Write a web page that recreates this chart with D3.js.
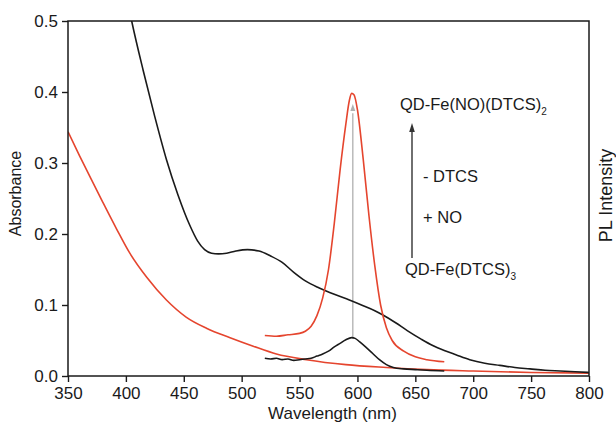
<!DOCTYPE html>
<html>
<head>
<meta charset="utf-8">
<script src="https://cdn.jsdelivr.net/npm/d3@7"></script>
<style>
  body { margin: 0; background: #fff; }
  text { font-family: "Liberation Sans", Arial, sans-serif; fill: #1a1a1a; }
</style>
</head>
<body>
<div id="chart"></div>
<script>
const width = 616,
  height = 424;
const margin = { top: 21, right: 27, bottom: 48, left: 68 };

// absorbance, black (QD-Fe(DTCS)3 sample)
const absBlackX = [400, 405, 415, 425, 435, 445, 455, 462, 468, 474, 480, 487, 495, 505, 515, 525, 535, 545, 555, 567, 580, 593, 605, 615, 622, 633, 643, 655, 665, 675, 685, 697, 710, 723, 736, 749, 762, 775, 788, 800];
const absBlackY = [0.54, 0.5, 0.43, 0.365, 0.305, 0.255, 0.213, 0.19, 0.178, 0.173, 0.172, 0.173, 0.176, 0.178, 0.176, 0.169, 0.16, 0.146, 0.134, 0.124, 0.115, 0.107, 0.099, 0.092, 0.086, 0.075, 0.064, 0.052, 0.043, 0.036, 0.03, 0.023, 0.018, 0.015, 0.012, 0.01, 0.008, 0.007, 0.006, 0.005];

// absorbance, red
const absRedX = [350, 360, 371, 380, 392, 403, 418, 435, 452, 470, 490, 510, 530, 556, 590, 625, 660, 700, 750, 800];
const absRedY = [0.344, 0.31, 0.274, 0.245, 0.207, 0.174, 0.139, 0.107, 0.083, 0.067, 0.054, 0.042, 0.031, 0.023, 0.016, 0.012, 0.009, 0.007, 0.005, 0.004];

// PL, red (after NO)
const plRedX = [520, 530, 540, 550, 555, 560, 565, 570, 575, 580, 585, 590, 593, 595, 597, 600, 605, 610, 615, 620, 625, 630, 640, 650, 660, 675];
const plRedY = [0.057, 0.056, 0.058, 0.06, 0.063, 0.07, 0.085, 0.11, 0.15, 0.215, 0.29, 0.355, 0.388, 0.398, 0.396, 0.375, 0.305, 0.225, 0.155, 0.1, 0.068, 0.05, 0.035, 0.027, 0.023, 0.02];

// PL, black (before NO)
const plBlackX = [520, 525, 530, 535, 540, 545, 550, 555, 560, 565, 570, 575, 580, 585, 590, 595, 598, 602, 607, 613, 619, 625, 631, 640, 650, 660, 675];
const plBlackY = [0.025, 0.024, 0.025, 0.023, 0.024, 0.022, 0.023, 0.024, 0.025, 0.028, 0.031, 0.035, 0.041, 0.046, 0.051, 0.054, 0.053, 0.048, 0.041, 0.032, 0.023, 0.016, 0.012, 0.01, 0.009, 0.008, 0.007];

const xTicks = [350, 400, 450, 500, 550, 600, 650, 700, 750, 800];
const yTicks = [0.0, 0.1, 0.2, 0.3, 0.4, 0.5];

const w = width - margin.left - margin.right,
  h = height - margin.top - margin.bottom;

const x = d3.scaleLinear().domain([350, 800]).range([0, w]);
const y = d3.scaleLinear().domain([0, 0.5]).range([h, 0]);

const svg = d3
  .select("#chart")
  .append("svg")
  .attr("width", width)
  .attr("height", height)
  .append("g")
  .attr("transform", `translate(${margin.left},${margin.top})`);

svg.append("clipPath").attr("id", "clip")
  .append("rect").attr("width", w).attr("height", h);

const line = d3.line()
  .x((d) => x(d[0]))
  .y((d) => y(d[1]))
  .curve(d3.curveMonotoneX);

const zip = (a, b) => a.map((v, i) => [v, b[i]]);

const curves = [
  { pts: zip(absRedX, absRedY), color: "#e5452e" },
  { pts: zip(absBlackX, absBlackY), color: "#1a1a1a" },
  { pts: zip(plRedX, plRedY), color: "#e5452e" },
  { pts: zip(plBlackX, plBlackY), color: "#1a1a1a" },
];

// gray arrow between the PL peaks
svg.append("line")
  .attr("x1", x(596)).attr("x2", x(596))
  .attr("y1", y(0.053)).attr("y2", y(0.37))
  .attr("stroke", "#b0b0b0").attr("stroke-width", 1.3);
svg.append("path")
  .attr("d", `M${x(596)},${y(0.383)} l-2.5,7 l5,0 z`)
  .attr("fill", "#b0b0b0");

svg.append("g").attr("clip-path", "url(#clip)")
  .selectAll("path")
  .data(curves)
  .enter()
  .append("path")
  .attr("d", (d) => line(d.pts))
  .attr("fill", "none")
  .attr("stroke", (d) => d.color)
  .attr("stroke-width", 1.6);

// frame
svg.append("rect")
  .attr("width", w).attr("height", h)
  .attr("fill", "none").attr("stroke", "#1a1a1a").attr("stroke-width", 1.5);

// bottom axis
const xAxis = svg.append("g").attr("transform", `translate(0,${h})`);
xAxis.call(d3.axisBottom(x).tickValues(d3.range(375, 800, 50)).tickSize(3.5).tickFormat(""));
xAxis.call(d3.axisBottom(x).tickValues(xTicks).tickSize(6).tickPadding(5).tickFormat(d3.format("d")));

// left axis
const yAxis = svg.append("g");
yAxis.call(d3.axisLeft(y).tickValues([0.05, 0.15, 0.25, 0.35, 0.45]).tickSize(3.5).tickFormat(""));
yAxis.call(d3.axisLeft(y).tickValues(yTicks).tickSize(6).tickPadding(4).tickFormat(d3.format(".1f")));

svg.selectAll(".domain").remove();
svg.selectAll(".tick line").attr("stroke", "#1a1a1a").attr("stroke-width", 1.4);
svg.selectAll(".tick text").attr("font-size", 17).attr("fill", "#1a1a1a");

// axis titles
svg.append("text")
  .attr("x", w / 2 + 4)
  .attr("y", h + 43)
  .attr("text-anchor", "middle")
  .attr("font-size", 17)
  .text("Wavelength (nm)");

svg.append("text")
  .attr("transform", `translate(-47,${h / 2 - 5}) rotate(-90)`)
  .attr("text-anchor", "middle")
  .attr("font-size", 16)
  .text("Absorbance");

svg.append("text")
  .attr("transform", `translate(${w + 23},${h / 2 - 3}) rotate(-90)`)
  .attr("text-anchor", "middle")
  .attr("font-size", 18)
  .text("PL Intensity");

// black arrow and annotations
const ax = 412 - margin.left;
svg.append("line")
  .attr("x1", ax).attr("x2", ax)
  .attr("y1", 258 - margin.top).attr("y2", 132 - margin.top)
  .attr("stroke", "#333").attr("stroke-width", 1.4);
svg.append("path")
  .attr("d", `M${ax},${123 - margin.top} l-2.8,9 l5.6,0 z`)
  .attr("fill", "#333");

function label(tx, ty, main, sub) {
  const t = svg.append("text")
    .attr("x", tx - margin.left)
    .attr("y", ty - margin.top)
    .attr("font-size", 16.5)
    .text(main);
  if (sub) {
    t.append("tspan").attr("font-size", 10).attr("dy", 5).text(sub);
  }
}
label(400, 110, "QD-Fe(NO)(DTCS)", "2");
label(423, 182, "- DTCS");
label(423, 223, "+ NO");
label(405, 275, "QD-Fe(DTCS)", "3");
</script>
</body>
</html>
